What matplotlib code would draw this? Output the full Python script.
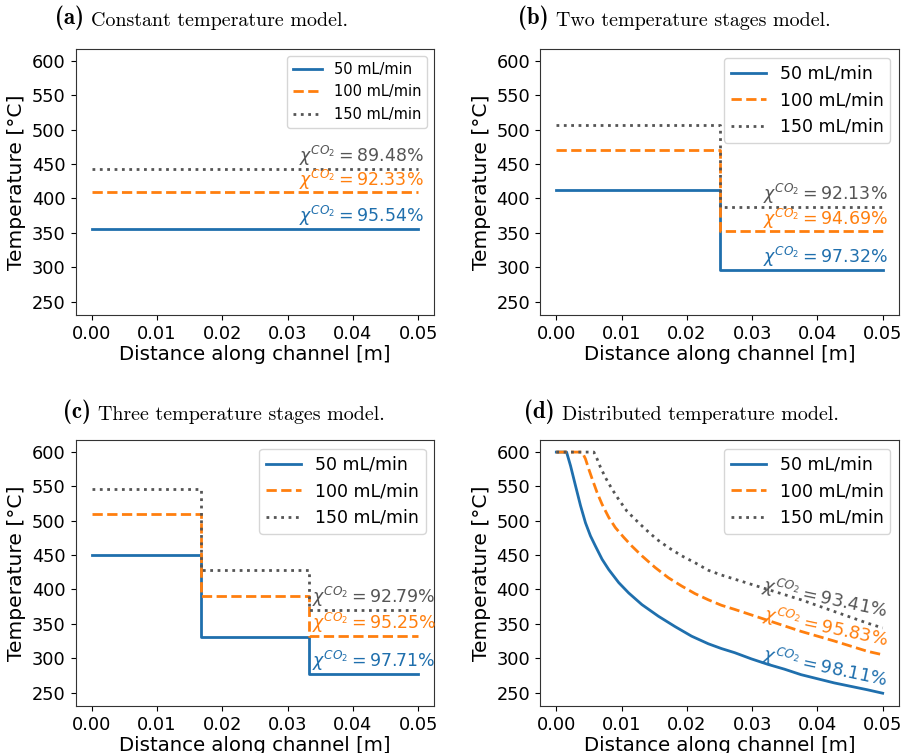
import numpy as np
import matplotlib.pyplot as plt

# ---------------------------------------------------------------
# donnees
# ---------------------------------------------------------------
debits = ["50 mL/min", "100 mL/min", "150 mL/min"]
couleurs = ["#1f6fad", "#ff7f0e", "#555555"]
styles = ["-", "--", ":"]

# (a) temperature constante
x_a = [0.0, 0.05]
T_a = [[356, 356], [409, 409], [443, 443]]
conv_a = [95.54, 92.33, 89.48]

# (b) deux paliers
x_b = [0.0, 0.025, 0.025, 0.05]
T_b = [[413, 413, 296, 296], [471, 471, 352, 352], [507, 507, 388, 388]]
conv_b = [97.32, 94.69, 92.13]

# (c) trois paliers
x_c = [0.0, 0.01667, 0.01667, 0.03333, 0.03333, 0.05]
T_c = [[450, 450, 331, 331, 277, 277],
       [510, 510, 390, 390, 333, 333],
       [547, 547, 428, 428, 370, 370]]
conv_c = [97.71, 95.25, 92.79]

# (d) temperature distribuee
x_d1 = [0.0, 0.00157, 0.00218, 0.00294, 0.00371, 0.00447, 0.00523, 0.0060, 0.00701, 0.00803,
        0.00956, 0.01108, 0.01311, 0.01565, 0.01819, 0.02073, 0.02328, 0.0253, 0.02733, 0.02988,
        0.03242, 0.03495, 0.0375, 0.04004, 0.04258, 0.04512, 0.04767, 0.05]
T_d1 = [600, 600, 580, 551, 522, 497, 478, 463, 444, 429,
        410, 395, 378, 361, 346, 332, 321, 314, 308, 299,
        291, 284, 276, 270, 264, 259, 254, 249]
x_d2 = [0.0, 0.00396, 0.00447, 0.00498, 0.00549, 0.00625, 0.00701, 0.00803, 0.00905, 0.01032,
        0.01159, 0.01311, 0.01514, 0.01718, 0.01921, 0.02124, 0.02328, 0.0253, 0.02733, 0.03242,
        0.0375, 0.04258, 0.04767, 0.05]
T_d2 = [600, 600, 590, 575, 561, 541, 524, 505, 490, 476,
        463, 449, 432, 417, 405, 394, 385, 377, 371, 355,
        339, 325, 310, 305]
x_d3 = [0.0, 0.00575, 0.00625, 0.00676, 0.00752, 0.00854, 0.00956, 0.01082, 0.01209, 0.01362,
        0.0154, 0.01718, 0.01921, 0.02124, 0.02328, 0.0253, 0.02733, 0.03242, 0.0375, 0.04258,
        0.04767, 0.05]
T_d3 = [600, 600, 590, 578, 563, 546, 531, 514, 502, 488,
        473, 461, 449, 439, 428, 421, 415, 400, 385, 368,
        351, 344]
conv_d = [98.11, 95.83, 93.41]

titres = [("(a)", "Constant temperature model."),
          ("(b)", "Two temperature stages model."),
          ("(c)", "Three temperature stages model."),
          ("(d)", "Distributed temperature model.")]

# ---------------------------------------------------------------
fig = plt.figure(figsize=(9.04, 7.53), dpi=100)

W, H = 904., 753.
pos = [(75.5, 49, 359, 266), (540, 49, 359, 266),
       (75.5, 440, 359, 266), (540, 440, 359, 266)]
axes = [fig.add_axes([l / W, 1 - (t + h) / H, w / W, h / H]) for (l, t, w, h) in pos]

def chi(v):
    return r"$\chi^{CO_2} = %.2f\%%$" % v

def habille(ax, legsize):
    ax.set_xlim(-0.0025, 0.0525)
    ax.set_ylim(230.4, 617.6)
    ax.set_xticks([0.0, 0.01, 0.02, 0.03, 0.04, 0.05])
    ax.set_yticks([250, 300, 350, 400, 450, 500, 550, 600])
    ax.tick_params(labelsize=12.8)
    ax.set_xlabel("Distance along channel [m]", fontsize=14.2, labelpad=1.5)
    ax.set_ylabel("Temperature [°C]", fontsize=14.6, labelpad=4)
    ax.legend(loc="upper right", fontsize=legsize)
    for s in ax.spines.values():
        s.set_color("#333333")

# (a)
ax = axes[0]
for i in range(3):
    ax.plot(x_a, T_a[i], styles[i], color=couleurs[i], lw=2, label=debits[i])
    ax.text(0.0508, T_a[i][-1] + 1, chi(conv_a[i]), color=couleurs[i], fontsize=12.5,
            ha="right", va="bottom")
habille(ax, 10.5)

# (b)
ax = axes[1]
for i in range(3):
    ax.plot(x_b, T_b[i], styles[i], color=couleurs[i], lw=2, label=debits[i])
    ax.text(0.0508, T_b[i][-1] + 1, chi(conv_b[i]), color=couleurs[i], fontsize=12.5,
            ha="right", va="bottom")
habille(ax, 12.5)

# (c)
ax = axes[2]
for i in range(3):
    ax.plot(x_c, T_c[i], styles[i], color=couleurs[i], lw=2, label=debits[i])
    ax.text(0.0337, T_c[i][-1] + 1, chi(conv_c[i]), color=couleurs[i], fontsize=12.5,
            ha="left", va="bottom")
habille(ax, 12.5)

# (d)
ax = axes[3]
decal = [9, 12, 15]
for i, (xx, yy) in enumerate([(x_d1, T_d1), (x_d2, T_d2), (x_d3, T_d3)]):
    ax.plot(xx, yy, styles[i], color=couleurs[i], lw=2, label=debits[i])
    ax.text(0.0505, yy[-1] + decal[i], chi(conv_d[i]), color=couleurs[i], fontsize=12.8,
            ha="right", va="baseline", rotation=-12, rotation_mode="anchor")
habille(ax, 12.5)

# titres facon sous-figures LaTeX
debuts = [(55, 24), (518, 24), (63, 418), (524, 418)]
for (lettre, texte), (x0, y0) in zip(titres, debuts):
    t1 = fig.text(x0 / W, 1 - y0 / H, lettre, family="cmb10", fontsize=16.5, va="baseline")
    axes[0].annotate(texte, xy=(1, 0), xycoords=t1, xytext=(5, 0), textcoords="offset points",
                     family="cmr10", fontsize=14.4, va="bottom", ha="left", annotation_clip=False)

fig.savefig("out.png", dpi=100)
